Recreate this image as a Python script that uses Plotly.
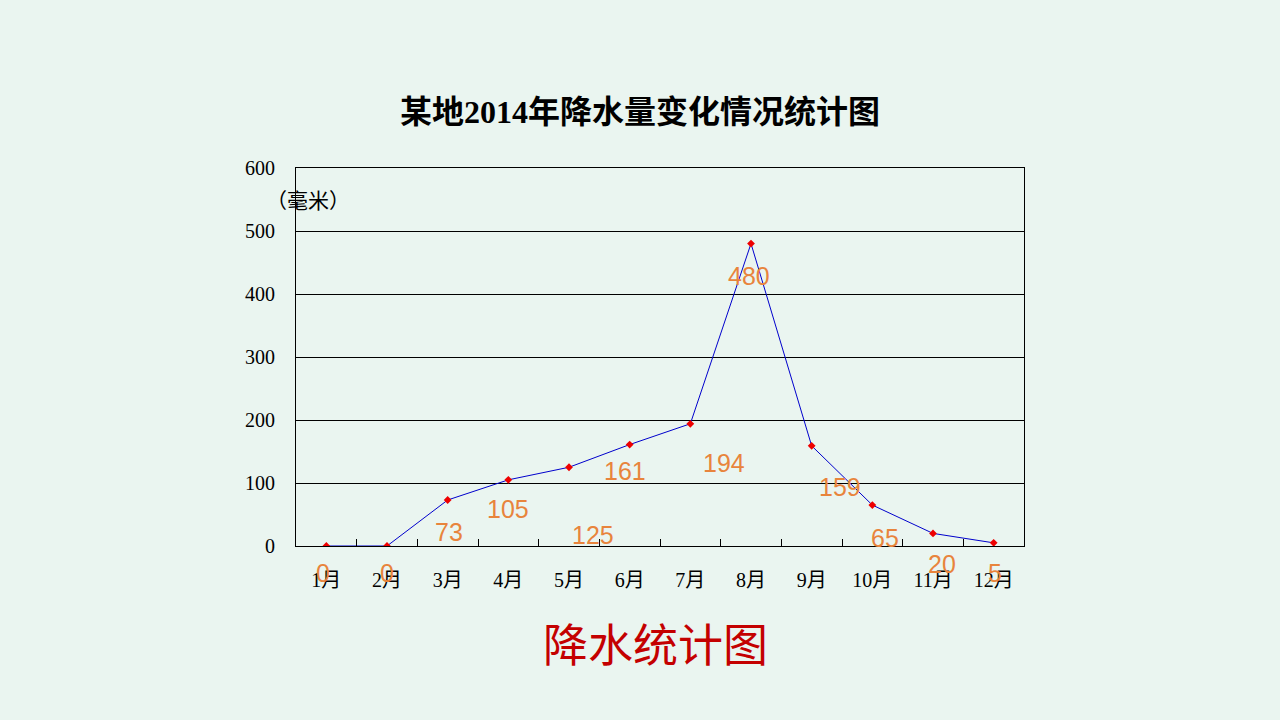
import plotly.graph_objects as go

months = ["1月", "2月", "3月", "4月", "5月", "6月", "7月", "8月", "9月", "10月", "11月", "12月"]
rain = [0, 0, 73, 105, 125, 161, 194, 480, 159, 65, 20, 5]
label_dx = [-3, 0, 1, 0, 24, -5, 34, -2, 28, 13, 9, 1]
label_dy = [-27, -27, -32, -29, -68, -26, -39, -32, -41, -33, -31, -30]
y_ticks = [0, 100, 200, 300, 400, 500, 600]

BG = "#EAF5F0"
SERIF = "Liberation Serif, Noto Sans CJK SC, serif"
CJK = "Noto Sans CJK SC, sans-serif"

fig = go.Figure()
fig.add_trace(go.Scatter(
    x=months, y=rain, mode="lines+markers",
    line=dict(color="#0000CC", width=1),
    marker=dict(symbol="diamond", size=6, color="#EE0000"),
    showlegend=False, hoverinfo="skip",
))

for m, v, dx, dy in zip(months, rain, label_dx, label_dy):
    fig.add_annotation(x=m, y=v, text=str(v), showarrow=False,
                       xshift=dx, yshift=dy,
                       font=dict(family="Liberation Sans, Arial, sans-serif", size=25, color="#E8843C"))

fig.add_annotation(xref="paper", yref="paper", x=0.017, y=0.918, text="（毫米）",
                   showarrow=False, xanchor="center", yanchor="middle",
                   font=dict(family=CJK, size=21, color="#000000"))

fig.add_annotation(xref="paper", yref="paper", x=0.494, y=-0.255, text="降水统计图",
                   showarrow=False, xanchor="center", yanchor="middle",
                   font=dict(family=CJK, size=45, color="#C40000"))

fig.update_layout(
    width=1280, height=720,
    paper_bgcolor=BG, plot_bgcolor=BG,
    margin=dict(l=296, r=256, t=168, b=174),
    title=dict(text="<b>某地2014年降水量变化情况统计图</b>", x=0.5, xanchor="center",
               y=1 - 112 / 720, yanchor="middle",
               font=dict(family=SERIF, size=32, color="#000000")),
    xaxis=dict(
        type="category", showgrid=False, showline=True, linecolor="#000000", linewidth=1,
        mirror=True, ticks="inside", tickson="boundaries", ticklen=7, tickcolor="#000000",
        ticklabelstandoff=16,
        tickfont=dict(family=SERIF, size=20, color="#000000"),
        range=[-0.5, 11.5],
    ),
    yaxis=dict(
        range=[0, 600], tickvals=y_ticks, showgrid=True, gridcolor="#000000", gridwidth=1,
        showline=True, linecolor="#000000", linewidth=1, mirror=True, zeroline=False,
        ticks="", ticklabelstandoff=16,
        tickfont=dict(family=SERIF, size=20, color="#000000"),
    ),
)

fig.write_html("out.html")
